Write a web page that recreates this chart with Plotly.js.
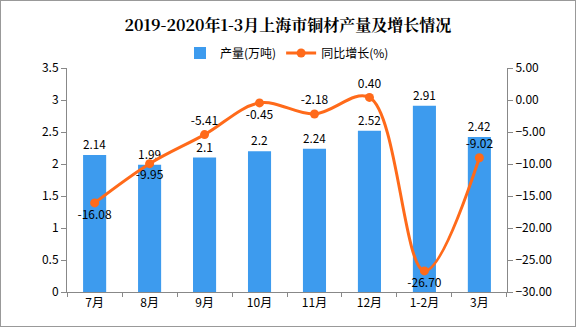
<!DOCTYPE html>
<html><head><meta charset="utf-8">
<script src="https://cdn.plot.ly/plotly-3.0.1.min.js"></script>
<style>html,body{margin:0;padding:0;background:#fff}#c{width:576px;height:327px;box-sizing:border-box;border:1px solid #999}</style>
</head><body><div id="c"></div>
<script>
const categories = ["7月","8月","9月","10月","11月","12月","1-2月","3月"];
const output = [2.14, 1.99, 2.1, 2.2, 2.24, 2.52, 2.91, 2.42];
const growth = [-16.08, -9.95, -5.41, -0.45, -2.18, 0.40, -26.70, -9.02];
const growthLabels = ["-16.08","-9.95","-5.41","-0.45","-2.18","0.40","-26.70","-9.02"];
const growthPos = ["bottom center","bottom center","top center","bottom center","top center","top center","bottom center","top center"];
const font = "Noto Sans CJK SC, DejaVu Sans, sans-serif";
const data = [
  {type:"bar", name:"产量(万吨)", x:categories, y:output, text:output.map(String), textposition:"outside",
   textfont:{size:12,color:"#000",family:font}, cliponaxis:false,
   marker:{color:"#3D9BEE"}, width:0.42},
  {type:"scatter", mode:"lines+markers+text", name:"同比增长(%)", x:categories, y:growth, yaxis:"y2",
   text:growthLabels, textposition:growthPos, textfont:{size:12,color:"#000",family:font}, cliponaxis:false,
   line:{color:"#FF6A1A", width:3, shape:"spline", smoothing:1.0}, marker:{color:"#FF6A1A", size:9}}
];
const layout = {
  width:574, height:325, margin:{l:66, r:68, t:67, b:34},
  paper_bgcolor:"#fff", plot_bgcolor:"#fff",
  font:{family:font, size:12, color:"#000"},
  title:{text:"<b>2019-2020年1-3月上海市铜材产量及增长情况</b>", x:0.5, xanchor:"center", y:0.925, yanchor:"middle",
         font:{size:16, family:"Noto Serif CJK SC, Noto Sans CJK SC, serif", color:"#000"}},
  showlegend:true,
  legend:{orientation:"h", x:0.5, xanchor:"center", y:1.067, yanchor:"middle", font:{size:12}},
  bargap:0.58,
  xaxis:{showline:true, linecolor:"#888", ticks:"outside", tickcolor:"#888", ticklen:4, tickson:"boundaries",
         tickfont:{size:12}, showgrid:false, zeroline:false},
  yaxis:{range:[0,3.5], dtick:0.5, showline:true, linecolor:"#888", ticks:"outside", tickcolor:"#888", ticklen:5,
         showgrid:false, zeroline:false, tickfont:{size:12}},
  yaxis2:{overlaying:"y", side:"right", range:[-30,5], dtick:5, tickformat:".2f", showline:true, linecolor:"#888",
          ticks:"outside", tickcolor:"#888", ticklen:5, showgrid:false, zeroline:false, tickfont:{size:12}}
};
Plotly.newPlot("c", data, layout, {displayModeBar:false, staticPlot:true});
</script></body></html>
